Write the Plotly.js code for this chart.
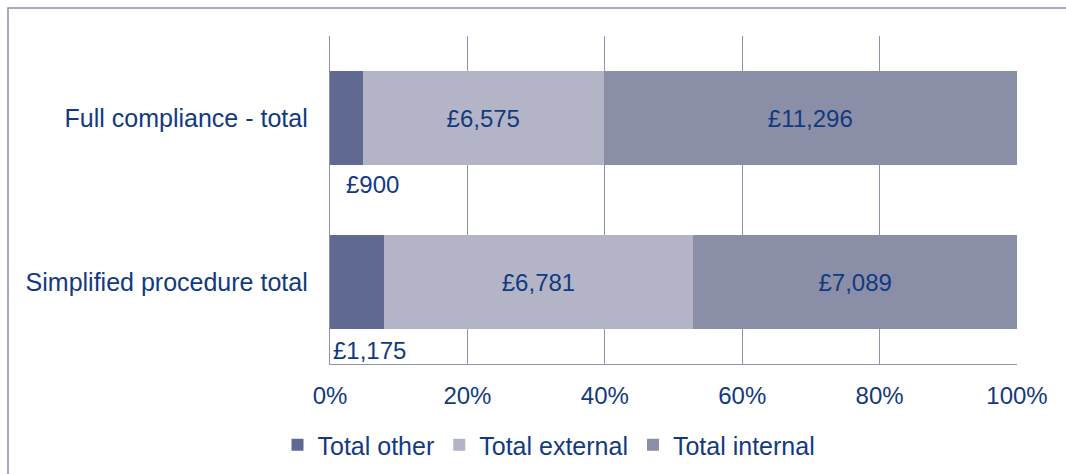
<!DOCTYPE html>
<html><head><meta charset="utf-8">
<script src="https://cdn.plot.ly/plotly-3.0.1.min.js"></script>
<style>html,body{margin:0;padding:0;background:#fff}</style>
</head><body>
<div id="chart" style="width:1066px;height:474px"></div>
<script>
const categories = ["Full compliance - total", "Simplified procedure total"];
const totalOther = [900, 1175];
const totalExternal = [6575, 6781];
const totalInternal = [11296, 7089];
const seriesNames = ["Total other", "Total external", "Total internal"];
const tickVals = [0, 20, 40, 60, 80, 100];

const textColor = "#123a82";
const fmt = v => "£" + v.toLocaleString("en-GB");
const fam = "Liberation Sans, Arial, sans-serif";
const font = {family: fam, size: 24, color: textColor};
const catFont = {family: fam, size: 25, color: textColor};
const legFont = {family: fam, size: 25, color: textColor};

const mk = (name, vals, color, showText) => ({
  type: "bar", orientation: "h", name: name,
  y: categories, x: vals,
  marker: {color: color, line: {width: 0}},
  text: showText ? vals.map(fmt) : undefined,
  textposition: showText ? "inside" : "none",
  insidetextanchor: "middle",
  textfont: font,
  hoverinfo: "none"
});

const data = [
  mk(seriesNames[0], totalOther, "#606991", false),
  mk(seriesNames[1], totalExternal, "#b3b5c6", true),
  mk(seriesNames[2], totalInternal, "#8a8ea7", true)
];

const shifts = [14, 1];
const yshifts = [-66, -68];
const annotations = categories.map((c, i) => ({
  x: 0, y: c, xref: "x", yref: "y", text: fmt(totalOther[i]),
  showarrow: false, xanchor: "left", yanchor: "middle",
  xshift: shifts[i], yshift: yshifts[i], font: font
}));

const layout = {
  width: 1066, height: 474,
  margin: {l: 330, r: 49, t: 36, b: 110, pad: 0},
  paper_bgcolor: "#fff", plot_bgcolor: "#fff",
  barmode: "stack", barnorm: "percent", bargap: 0.43,
  font: font,
  xaxis: {
    range: [0, 100], tickvals: tickVals, ticktext: tickVals.map(v => v + "%"),
    showgrid: true, gridcolor: "#8f93ad", gridwidth: 1.3,
    showline: true, linecolor: "#8f93ad", linewidth: 1.3,
    zeroline: false, ticks: "", ticklabelstandoff: 10, tickfont: font, fixedrange: true
  },
  yaxis: {
    autorange: "reversed", showgrid: false, showline: true,
    linecolor: "#8f93ad", linewidth: 1.3, ticks: "", ticklabelstandoff: 16,
    tickfont: catFont, fixedrange: true
  },
  showlegend: true,
  legend: {orientation: "h", xref: "container", yref: "container",
    x: 549 / 1066, xanchor: "center", y: (474 - 445) / 474, yanchor: "middle",
    font: legFont, itemwidth: 30, traceorder: "normal"},
  annotations: annotations,
  shapes: [{type: "rect", xref: "paper", yref: "paper",
    x0: (8 - 330) / 687, x1: (1080 - 330) / 687,
    y0: (364 - 490) / 328, y1: (364 - 8) / 328,
    line: {color: "#8a8fab", width: 1.5}, fillcolor: "rgba(0,0,0,0)", layer: "below"}]
};

Plotly.newPlot("chart", data, layout, {displayModeBar: false, staticPlot: true});
</script>
</body></html>
